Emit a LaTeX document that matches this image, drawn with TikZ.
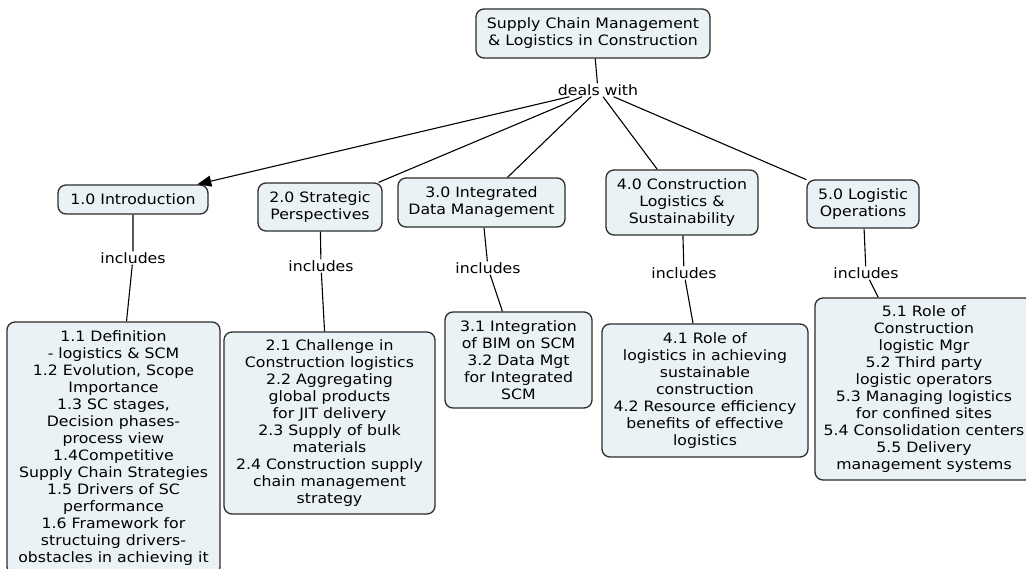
\documentclass[tikz,border=0pt]{standalone}
\usepackage{fontspec}
\setmainfont{DejaVu Sans}[FakeStretch=1.1]
\usetikzlibrary{arrows.meta}
\definecolor{boxfill}{RGB}{234,242,245}
\definecolor{boxline}{RGB}{45,45,45}

\begin{document}
\begin{tikzpicture}[x=1pt, y=-1pt,
    every node/.style={font=\fontsize{14.3}{17}\selectfont},
    concept/.style={draw=boxline, line width=1.3pt, fill=boxfill, rounded corners=8pt, align=center, inner sep=0pt},
    phrase/.style={inner sep=1pt},
    conn/.style={line width=1.1pt}]
    \useasboundingbox (0,0) rectangle (1026,568);
    % Nodes
    \node[concept, minimum width=234pt, minimum height=49pt] (SCM) at (593,33.5) {Supply Chain Management\\\& Logistics in Construction};
    \node[phrase] (deals) at (598,90) {deals with};

    \node[concept, minimum width=150pt, minimum height=29pt] (intro) at (133,199.5) {1.0 Introduction};
    \node[concept, minimum width=124pt, minimum height=48pt] (strat) at (320,207) {2.0 Strategic\\Perspectives};
    \node[concept, minimum width=167pt, minimum height=49pt] (data) at (481.5,202.5) {3.0 Integrated\\Data Management};
    \node[concept, minimum width=152pt, minimum height=65pt] (sust) at (682,202.5) {4.0 Construction\\Logistics \&\\Sustainability};
    \node[concept, minimum width=112pt, minimum height=48pt] (oper) at (863,204) {5.0 Logistic\\Operations};

    \node[phrase] (inc1) at (133,258) {includes};
    \node[phrase] (inc2) at (321,266) {includes};
    \node[phrase] (inc3) at (488,268) {includes};
    \node[phrase] (inc4) at (684,273) {includes};
    \node[phrase] (inc5) at (866,273) {includes};

    \node[concept, minimum width=213pt, minimum height=253pt] (intro sub) at (113.5,448.5) {1.1 Definition\\- logistics \& SCM\\1.2 Evolution, Scope\\Importance\\1.3 SC stages,\\Decision phases-\\process view\\1.4Competitive\\Supply Chain Strategies\\1.5 Drivers of SC\\performance\\1.6 Framework for\\structuing drivers-\\obstacles in achieving it};
    \node[concept, minimum width=211pt, minimum height=182pt] (strat sub) at (329.5,423) {2.1 Challenge in\\Construction logistics\\2.2 Aggregating\\global products\\for JIT delivery\\2.3 Supply of bulk\\materials\\2.4 Construction supply\\chain management\\strategy};
    \node[concept, minimum width=147pt, minimum height=96pt] (data sub) at (518.5,360) {3.1 Integration\\of BIM on SCM\\3.2 Data Mgt\\for Integrated\\SCM};
    \node[concept, minimum width=206pt, minimum height=133pt] (sust sub) at (705,390.5) {4.1 Role of\\logistics in achieving\\sustainable\\construction\\4.2 Resource efficiency\\benefits of effective\\logistics};
    \node[concept, minimum width=218pt, minimum height=182pt] (oper sub) at (924,389) {5.1 Role of\\Construction\\logistic Mgr\\5.2 Third party\\logistic operators\\5.3 Managing logistics\\for confined sites\\5.4 Consolidation centers\\5.5 Delivery\\management systems};

    % Paths
    \draw[conn] (SCM) -- (deals);
    \draw[conn, -{Triangle[length=14pt, width=11pt]}] (deals) -- (intro);
    \draw[conn] (deals) -- (strat);
    \draw[conn] (deals) -- (data);
    \draw[conn] (deals) -- (sust);
    \draw[conn] (deals) -- (oper);

    \draw[conn] (intro) -- (inc1) -- (intro sub);
    \draw[conn] (strat) -- (inc2) -- (strat sub);
    \draw[conn] (data) -- (inc3) -- (data sub);
    \draw[conn] (sust) -- (inc4) -- (sust sub);
    \draw[conn] (oper) -- (inc5) -- (oper sub);
\end{tikzpicture}
\end{document}
